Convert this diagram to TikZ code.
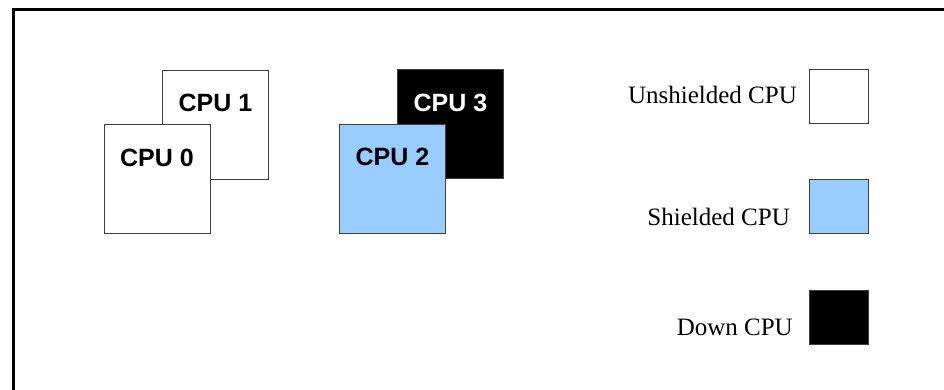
\documentclass[tikz,border=0pt]{standalone}
\usepackage{fontspec}
\setmainfont{Liberation Serif}
\setsansfont{Liberation Sans}

\definecolor{shieldblue}{HTML}{99CCFF}
\definecolor{edgegray}{HTML}{404040}

\tikzset{
  cpubox/.style={draw=edgegray, line width=1pt, minimum width=106pt, minimum height=109pt, inner sep=0pt},
  cpulabel/.style={font=\sffamily\bfseries\fontsize{25}{25}\selectfont, inner sep=0pt},
  keybox/.style={draw=edgegray, line width=1pt, minimum width=59pt, minimum height=54pt, inner sep=0pt},
  keylabel/.style={font=\fontsize{25}{25}\selectfont, inner sep=0pt, anchor=base east}
}

\begin{document}
\begin{tikzpicture}[x=1pt,y=-1pt]

\useasboundingbox (0,0) rectangle (944,389);

% frame
\draw [line width=3pt] (13.5,400) -- (13.5,9.5) -- (960,9.5);

% unshielded pair
\node [cpubox,fill=white] (cpu1) at (215.5,124.5) {};
\node [cpulabel] (cpu1lbl) at ([yshift=-33pt]cpu1.north) {CPU 1};
\node [cpubox,fill=white] (cpu0) at (157,178.5) {};
\node [cpulabel] (cpu0lbl) at ([yshift=-34pt]cpu0.north) {CPU 0};

% shielded and down pair
\node [cpubox,fill=black] (cpu3) at (450.5,124) {};
\node [cpulabel,text=white] (cpu3lbl) at ([yshift=-34pt]cpu3.north) {CPU 3};
\node [cpubox,fill=shieldblue] (cpu2) at (392.5,179) {};
\node [cpulabel] (cpu2lbl) at ([yshift=-33pt]cpu2.north) {CPU 2};

% key
\node [keybox,fill=white] (keyun) at (838.5,96.5) {};
\node [keylabel] (keyunlbl) at (797,103) {Unshielded CPU};

\node [keybox,fill=shieldblue] (keysh) at (838.5,206.5) {};
\node [keylabel] (keyshlbl) at (790,225) {Shielded CPU};

\node [keybox,fill=black] (keydn) at (838.5,317) {};
\node [keylabel] (keydnlbl) at (793,335) {Down CPU};

\end{tikzpicture}
\end{document}
